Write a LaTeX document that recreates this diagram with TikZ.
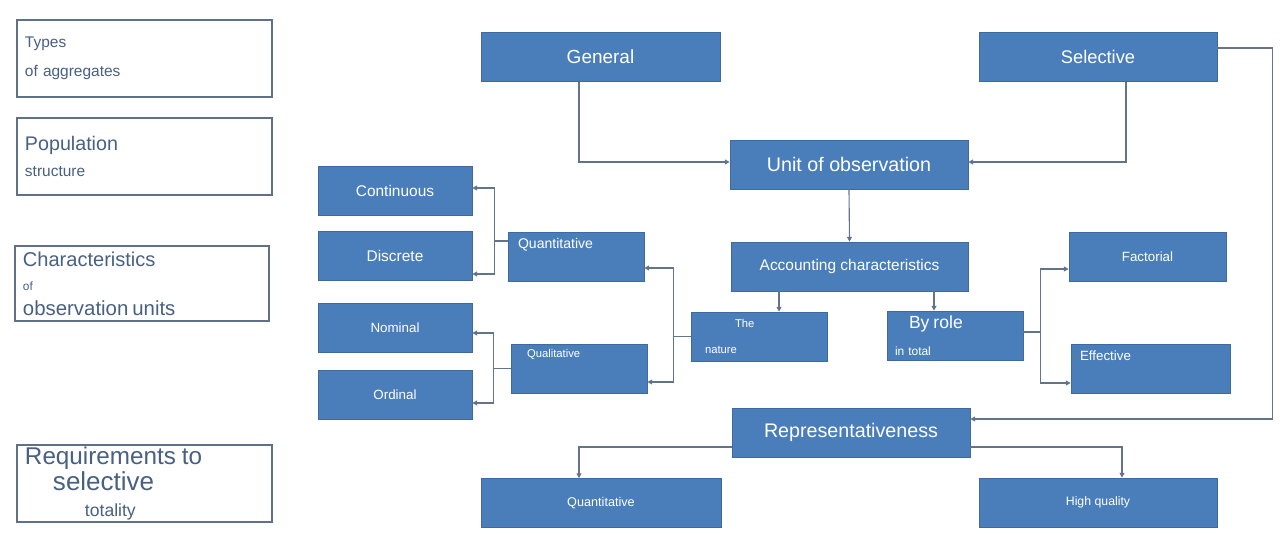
\documentclass[tikz,border=0pt]{standalone}
\usepackage{fontspec}
\setmainfont{Liberation Sans}
\usepackage{xcolor}
\usetikzlibrary{arrows.meta}

\definecolor{boxblue}{RGB}{74,126,187}
\definecolor{boxedge}{RGB}{62,106,160}
\definecolor{linegray}{RGB}{100,116,136}
\definecolor{framegray}{RGB}{96,112,134}
\definecolor{slatetext}{RGB}{72,96,130}

\begin{document}
\begin{tikzpicture}[x=0.5mm, y=-0.5mm,
    box/.style={draw=boxedge, line width=0.8pt, fill=boxblue, text=white, minimum height=24.5mm, inner sep=0pt},
    upper/.style={align=left, text height=2mm, text depth=#1},
    frame/.style={draw=framegray, line width=2pt, fill=white, minimum width=127.5mm, minimum height=38.5mm, inner sep=0pt, text=slatetext, align=left, text width=119.5mm},
    conn/.style={draw=linegray, line width=1.6pt, -{Triangle[length=2.4mm, width=2.4mm]}}]
    \useasboundingbox (0,0) rectangle (1287,534);

    % Left column
    \node[frame, font=\fontsize{22}{41}\selectfont] (types) at (144.5,58.5) {Types\\of aggregates};
    \node[frame, font=\fontsize{22}{37}\selectfont] (popul) at (144.5,156.5) {{\fontsize{28}{34}\selectfont Population}\\structure};
    \node[frame, minimum width=127mm, minimum height=37.5mm, text width=119mm, font=\fontsize{17}{35}\selectfont] (chars) at (142,283.5) {{\fontsize{28.5}{34}\selectfont Characteristics}\\of\\{\fontsize{29}{34}\selectfont observation units}};
    \node[frame, font=\fontsize{25}{37.5}\selectfont] (reqs) at (144.5,483.5) {{\fontsize{34.5}{40}\selectfont Requirements to}\\\hspace*{14mm}{\fontsize{37}{42}\selectfont selective}\\\hspace*{30mm}totality};

    % Top row
    \node[box, minimum width=119.5mm, font=\fontsize{27}{32}\selectfont] (gen) at (600.5,57) {General};
    \node[box, minimum width=119mm, font=\fontsize{26}{31}\selectfont] (sel) at (1098,57) {Selective};
    \node[box, minimum width=119mm, font=\fontsize{28}{33}\selectfont] (unit) at (849,164.5) {Unit of observation};
    \node[box, minimum width=118.5mm, font=\fontsize{22}{26}\selectfont] (acc) at (849.5,266.5) {Accounting characteristics};

    % Left branch
    \node[box, minimum width=68mm, text width=58mm, upper=10.8mm, font=\fontsize{20}{24}\selectfont] (quant) at (576,257) {Quantitative};
    \node[box, minimum width=68mm, text width=52mm, upper=13.2mm, font=\fontsize{16}{19}\selectfont] (qual) at (579,368.5) {Qualitative};
    \node[box, minimum width=77mm, font=\fontsize{22}{26}\selectfont] (cont) at (395,191) {Continuous};
    \node[box, minimum width=77mm, font=\fontsize{22}{26}\selectfont] (disc) at (395,256) {Discrete};
    \node[box, minimum width=77mm, font=\fontsize{19}{23}\selectfont] (nom) at (395,328) {Nominal};
    \node[box, minimum width=77mm, font=\fontsize{19}{23}\selectfont] (ord) at (395,395) {Ordinal};
    \node[box, minimum width=68mm, text width=54mm, align=left, font=\fontsize{16}{38}\selectfont] (nat) at (759,336.5) {\hspace*{15mm}The\\nature};

    % Right branch
    \node[box, minimum width=68mm, text width=60mm, align=left, font=\fontsize{17}{39}\selectfont] (role) at (955,335.5) {\hspace*{7mm}{\fontsize{25}{30}\selectfont By role}\\in total};
    \node[box, minimum width=78.5mm, font=\fontsize{19}{23}\selectfont] (fact) at (1147.5,257) {Factorial};
    \node[box, minimum width=79.5mm, text width=70.5mm, upper=10.5mm, font=\fontsize{19}{23}\selectfont] (eff) at (1150.5,368.5) {Effective};

    % Bottom row
    \node[box, minimum width=119mm, font=\fontsize{28}{33}\selectfont] (rep) at (851,432.5) {Representativeness};
    \node[box, minimum width=120mm, font=\fontsize{18}{22}\selectfont] (qtyB) at (601,503) {Quantitative};
    \node[box, minimum width=119mm, font=\fontsize{17.5}{21}\selectfont] (hq) at (1098,502.5) {High quality};

    % Arrows
    \draw[conn] ([xshift=-10.75mm]gen.south) |- ([yshift=1.25mm]unit.west);
    \draw[conn] ([xshift=14mm]sel.south) |- ([yshift=1.25mm]unit.east);
    \draw[conn] ([yshift=4.5mm]sel.east) -- ++(55,0) |- ([yshift=6.75mm]rep.east);
    \draw[conn] (unit.south) -- (acc.north);
    \coordinate (accL) at ([xshift=-35.25mm]acc.south);
    \coordinate (accR) at ([xshift=42.25mm]acc.south);
    \draw[conn] (accL) -- (accL |- nat.north);
    \draw[conn] (accR) -- (accR |- role.north);

    \draw[conn] (nat.west) -- ++(-17,0) coordinate (natJ) |- ([yshift=-5.5mm]quant.east);
    \draw[conn] (natJ) |- ([yshift=-6.75mm]qual.east);
    \draw[conn] ([yshift=8mm]quant.west) -- ++(-13,0) coordinate (quantJ) |- ([yshift=1.5mm]cont.east);
    \draw[conn] (quantJ) |- ([yshift=-9mm]disc.east);
    \draw[conn] (qual.west) -- ++(-17,0) coordinate (qualJ) |- ([yshift=-2.5mm]nom.east);
    \draw[conn] (qualJ) |- ([yshift=-4mm]ord.east);
    \draw[conn] ([yshift=1.75mm]role.east) -- ++(17,0) coordinate (roleJ) |- ([yshift=-6mm]fact.west);
    \draw[conn] (roleJ) |- ([yshift=-7.25mm]eff.west);

    \draw[conn] ([yshift=-7.25mm]rep.west) -| ([xshift=-11mm]qtyB.north);
    \draw[conn] ([yshift=-7.25mm]rep.east) -| ([xshift=12mm]hq.north);

\end{tikzpicture}
\end{document}
